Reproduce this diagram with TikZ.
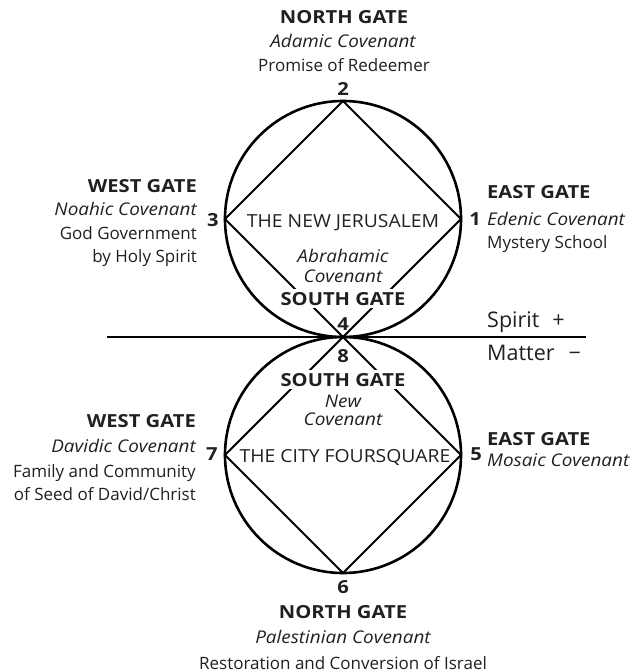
\documentclass[tikz,border=0pt]{standalone}
\usepackage{fontspec}
\setmainfont{Open Sans}
\newfontfamily\capsfont{Open Sans}[FakeStretch=1.075]
\newfontfamily\boldfont{Open Sans}[FakeStretch=1.12]
\newfontfamily\italfont{Open Sans}[FakeStretch=1.08]
\definecolor{ink}{HTML}{231F20}
\begin{document}
\begin{tikzpicture}[x=1pt,y=-1pt,
  lbl/.style={inner sep=0pt, anchor=base, font=\fontsize{17}{20}\selectfont, text=ink},
  lw/.style={lbl, anchor=base east},
  le/.style={lbl, anchor=base west},
  bf/.style={font=\boldfont\fontsize{18}{21}\selectfont\bfseries},
  it/.style={font=\italfont\fontsize{17.5}{20}\selectfont\itshape},
  cp/.style={font=\capsfont\fontsize{18}{21}\selectfont},
  big/.style={font=\fontsize{21.5}{24}\selectfont},
  ring/.style={line width=2.6pt, draw=black},
  diam/.style={line width=1.8pt, draw=black, line join=miter},
  axis/.style={line width=2.2pt, draw=black},
  cover/.style={fill=white, inner xsep=2pt, inner ysep=3pt}]
\useasboundingbox (0,0) rectangle (634,672);
% circles
\coordinate (c1) at (343,219);
\coordinate (c2) at (343,455);
\draw[ring] (c1) circle[radius=118];
\draw[ring] (c2) circle[radius=118];
% diamond vertices
\coordinate (v2) at (343,101);
\coordinate (v1) at (461,219);
\coordinate (v4) at (343,337);
\coordinate (v3) at (225,219);
\coordinate (v5) at (461,455);
\coordinate (v6) at (343,573);
\coordinate (v7) at (225,455);
\draw[diam] (v2) -- (v1) -- (v4) -- (v3) -- cycle;
\draw[diam] (v4) -- (v5) -- (v6) -- (v7) -- cycle;
% axis
\coordinate (hl) at (107,337);
\coordinate (hr) at (586,337);
\draw[axis] (hl) -- (hr);
% north gate top
\node[lbl,bf] (ng1) at (344,23) {NORTH GATE};
\node[lbl,it] (ng1b) at (343,47) {Adamic Covenant};
\node[lbl] (ng1c) at (344,71) {Promise of Redeemer};
\node[lbl,bf] (n2) at (343,95) {2};
% west gate top
\node[lw,bf] (wg1) at (197,192) {WEST GATE};
\node[lw,it] (wg1b) at (197,215) {Noahic Covenant};
\node[lw] (wg1c) at (197,239) {God Government};
\node[lw] (wg1d) at (197,262) {by Holy Spirit};
\node[lbl,bf] (n3) at (213,226) {3};
% east gate top
\node[le,bf] (eg1) at (487,198) {EAST GATE};
\node[le,it] (eg1b) at (487,225) {Edenic Covenant};
\node[le] (eg1c) at (487,248) {Mystery School};
\node[lbl,bf] (n1) at (475,225) {1};
% inside top
\node[lbl,cp] (nj) at (343,227) {THE NEW JERUSALEM};
\node[lbl,it] (ab1) at (343,262) {Abrahamic};
\node[lbl,it] (ab2) at (343,282) {Covenant};
\node[lbl,bf,cover] (sg1) at (343,305) {SOUTH GATE};
\node[lbl,bf] (n4) at (343,330) {4};
% spirit / matter
\node[le,big] (sp) at (487,327) {Spirit\hspace{13pt}+};
\node[le,big] (mt) at (487,360) {Matter\hspace{14pt}−};
% inside bottom
\node[lbl,bf] (n8) at (343,362) {8};
\node[lbl,bf,cover] (sg2) at (343,386) {SOUTH GATE};
\node[lbl,it] (nc1) at (343,407) {New};
\node[lbl,it] (nc2) at (343,425) {Covenant};
\node[lbl,cp] (cf) at (345,462) {THE CITY FOURSQUARE};
% west gate bottom
\node[lw,bf] (wg2) at (196,427) {WEST GATE};
\node[lw,it] (wg2b) at (196,452) {Davidic Covenant};
\node[lw] (wg2c) at (196,477) {Family and Community};
\node[lw] (wg2d) at (196,500) {of Seed of David/Christ};
\node[lbl,bf] (n7) at (212,460) {7};
% east gate bottom
\node[le,bf] (eg2) at (487,445) {EAST GATE};
\node[le,it] (eg2b) at (487,466) {Mosaic Covenant};
\node[lbl,bf] (n5) at (476,460) {5};
% north gate bottom
\node[lbl,bf] (n6) at (343,593) {6};
\node[lbl,bf] (ng2) at (343,618) {NORTH GATE};
\node[lbl,it] (ng2b) at (343,643) {Palestinian Covenant};
\node[lbl] (ng2c) at (343,669) {Restoration and Conversion of Israel};
\end{tikzpicture}
\end{document}
